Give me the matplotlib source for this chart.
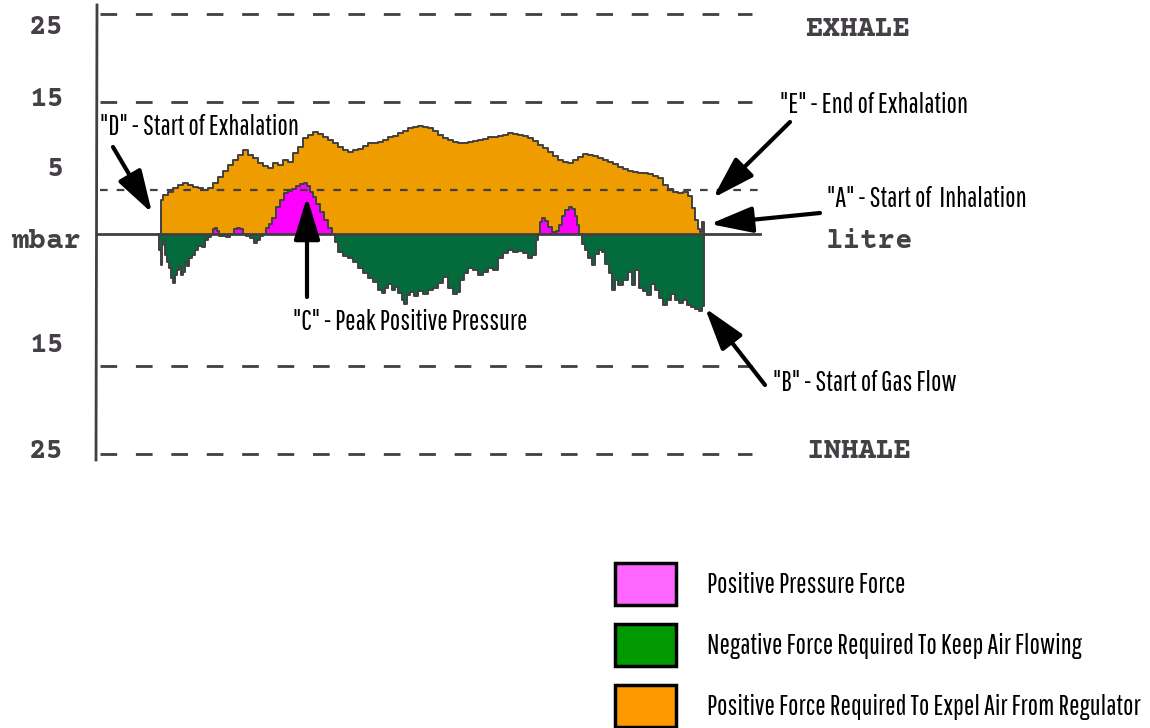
import matplotlib.pyplot as plt
from matplotlib.patches import Patch
import numpy as np

# exhale force trace (orange area), mbar
t_exhale = [160, 161, 165, 170, 175, 180, 185, 190, 195, 200, 205, 210, 215, 220, 225,
            230, 235, 240, 245, 250, 255, 260, 265, 270, 275, 280, 285, 290, 295, 300,
            305, 310, 315, 320, 325, 330, 335, 340, 345, 350, 355, 360, 365, 370, 375,
            380, 385, 390, 395, 400, 405, 410, 415, 420, 425, 430, 435, 440, 445, 450,
            455, 460, 465, 470, 475, 480, 485, 490, 495, 500, 505, 510, 515, 520, 525,
            530, 535, 540, 545, 550, 555, 560, 565, 570, 575, 580, 585, 590, 595, 600,
            605, 610, 615, 620, 625, 630, 635, 640, 645, 650, 655, 660, 665, 670, 675,
            680, 685, 690, 693, 696, 699, 701, 703, 705]
exhale_force = [0.0, 3.9, 4.4, 4.8, 5.2, 5.6, 5.8, 5.6, 5.3, 5.2, 5.0, 5.2, 5.8, 6.5, 7.2,
                7.8, 8.4, 9.0, 9.5, 9.0, 8.6, 8.1, 7.7, 7.5, 8.1, 7.8, 8.4, 8.2, 9.2, 9.9,
                10.9, 11.3, 11.6, 11.4, 11.0, 10.7, 10.3, 9.9, 9.5, 9.3, 9.5, 9.7, 10.0, 10.3, 10.3,
                10.5, 10.7, 11.0, 11.1, 11.5, 11.7, 12.0, 12.2, 12.3, 12.2, 12.0, 11.7, 11.3, 10.9, 10.7,
                10.5, 10.3, 10.3, 10.5, 10.6, 10.7, 10.8, 11.0, 11.0, 11.1, 11.3, 11.5, 11.4, 11.3, 11.1,
                10.9, 10.6, 10.1, 9.8, 9.3, 8.9, 8.4, 8.2, 8.1, 8.4, 8.8, 9.1, 9.0, 8.9, 8.6,
                8.4, 8.2, 8.0, 7.6, 7.4, 7.2, 7.0, 6.9, 6.9, 6.8, 6.6, 6.4, 5.6, 5.1, 4.8,
                4.7, 4.8, 4.3, 3.0, 1.6, 0.6, 0.2, 1.4, 0.0]

# regulator pressure trace, mbar (+ magenta, - green)
t_pressure = [158, 160, 161, 162, 164, 166, 168, 170, 172, 174, 176, 178, 180, 182, 184,
              186, 188, 190, 193, 196, 200, 203, 206, 209, 212, 214, 216, 218, 220, 224,
              228, 232, 235, 238, 241, 244, 248, 252, 255, 258, 261, 264, 267, 270, 274,
              278, 282, 286, 290, 294, 298, 302, 305, 308, 311, 314, 318, 322, 326, 330,
              333, 336, 340, 345, 350, 355, 360, 365, 370, 375, 380, 383, 386, 390, 393,
              396, 400, 403, 405, 408, 412, 416, 420, 425, 430, 435, 440, 445, 450, 455,
              458, 462, 466, 470, 475, 480, 485, 490, 495, 500, 505, 510, 515, 520, 525,
              530, 534, 537, 539, 541, 543, 546, 550, 554, 557, 560, 563, 567, 570, 573,
              576, 578, 580, 583, 586, 590, 593, 597, 600, 603, 607, 610, 613, 616, 620,
              625, 630, 633, 637, 641, 645, 649, 653, 657, 661, 665, 669, 673, 677, 681,
              685, 689, 693, 697, 700, 703, 705]
pressure = [0.0, -1.8, -3.5, -1.3, -0.7, -2.4, -3.2, -3.9, -5.0, -5.6, -4.7, -4.1, -3.6, -4.7, -4.3,
            -3.2, -3.6, -2.7, -2.4, -1.8, -1.4, -1.5, -0.7, -0.3, 0.0, 0.6, 0.7, 0.3, -0.2, -0.2,
            -0.3, 0.0, 0.6, 0.7, 0.6, 0.0, -0.2, -0.5, -1.0, -0.7, -0.2, 0.0, 0.7, 1.1, 1.8,
            3.1, 3.9, 4.7, 4.9, 5.1, 5.5, 5.7, 5.8, 5.5, 4.8, 4.2, 3.4, 2.5, 1.6, 0.7,
            0.0, -0.9, -2.0, -2.5, -2.7, -3.2, -3.9, -4.4, -5.0, -5.5, -6.4, -6.7, -6.1, -5.7, -6.4,
            -6.0, -6.7, -7.5, -8.0, -6.9, -6.6, -7.0, -6.5, -6.8, -6.4, -6.1, -5.6, -4.9, -6.1, -6.8,
            -6.6, -5.2, -4.4, -3.9, -4.1, -4.7, -4.3, -3.9, -4.1, -2.7, -2.2, -1.8, -2.0, -1.9, -2.2,
            -2.7, -2.4, -0.7, 0.0, 1.4, 1.8, 1.5, 0.8, 0.2, 0.3, 1.0, 2.0, 2.7, 3.1, 2.8,
            2.0, 1.0, 0.0, -1.1, -1.8, -2.7, -3.5, -2.3, -1.8, -2.0, -3.4, -4.4, -6.4, -5.2, -5.8,
            -5.2, -4.3, -5.8, -4.1, -6.1, -6.5, -6.9, -5.7, -6.4, -7.3, -8.1, -7.5, -6.8, -7.5, -7.8,
            -7.5, -8.1, -8.3, -8.5, -8.8, -8.2, 0.0]

grid_levels = [25, 15, -15, -25]
mid_level = 5
legend_labels = ['Positive Pressure Force',
                 'Negative Force Required To Keep Air Flowing',
                 'Positive Force Required To Expel Air From Regulator']
legend_colors = ['#ff66ff', '#009900', '#ff9900']

ORANGE = '#ef9c00'
GREEN = '#046b3c'
MAGENTA = '#ff00ff'
INK = '#404040'
ann_font = ['Saira Extra Condensed', 'Pathway Gothic One', 'Antonio', 'DejaVu Sans']
scale_font = ['Courier Prime', 'Liberation Mono', 'DejaVu Sans Mono']

plt.rcParams['lines.scale_dashes'] = False

PX = 8.8  # pixels per mbar
BASE = 234


def yp(pix):
    # figure pixel row -> mbar
    return (BASE - pix) / PX


fig = plt.figure(figsize=(11.5, 7.28), dpi=100)
ax = fig.add_axes([0, 0, 1, 1])
ax.set_xlim(0, 1150)
ax.set_ylim(yp(728), yp(0))
ax.axis('off')

t_e = np.array(t_exhale)
e = np.array(exhale_force)
t_p = np.array(t_pressure)
p = np.array(pressure)

ax.fill_between(t_e, 0, e, color=ORANGE, step='mid', lw=0, zorder=2)
ax.plot(t_e, e, color=INK, lw=1.4, drawstyle='steps-mid', zorder=4)
ax.fill_between(t_p, 0, p, where=p >= 0, color=MAGENTA, step='mid', lw=0, zorder=3)
ax.fill_between(t_p, p, 0, where=p <= 0, color=GREEN, step='mid', lw=0, zorder=3)
ax.plot(t_p, p, color=INK, lw=1.4, drawstyle='steps-mid', zorder=4)

# axis, baseline and reference lines
ax.plot([97, 96], [yp(5), yp(460)], color=INK, lw=2, zorder=5)
ax.plot([98, 760], [0, 0], color=INK, lw=2, zorder=5)
for lv in grid_levels:
    ax.plot([100, 752], [lv, lv], color=INK, lw=2, dashes=(12, 13.5), zorder=5)
ax.plot([100, 760], [mid_level, mid_level], color=INK, lw=1.6, dashes=(5.5, 6.5), zorder=5)

# scale labels
sk = dict(family=scale_font, fontweight='bold', fontsize=21, color='#444046', va='center')
ax.text(64, yp(27), '25', ha='right', **sk)
ax.text(64, yp(99), '15', ha='right', **sk)
ax.text(64, yp(169), '5', ha='right', **sk)
ax.text(81, yp(241), 'mbar', ha='right', **sk)
ax.text(64, yp(346), '15', ha='right', **sk)
ax.text(64, yp(451), '25', ha='right', **sk)
ax.text(805, yp(29), 'EXHALE', ha='left', **sk)
ax.text(826, yp(242), 'litre', ha='left', **sk)
ax.text(807, yp(451), 'INHALE', ha='left', **sk)

# annotations
tk = dict(family=ann_font, fontsize=20, color='black', va='center', ha='left')
ax.text(100, yp(127), '"D" - Start of Exhalation', **tk)
ax.text(780, yp(105), '"E" - End of Exhalation', **tk)
ax.text(827, yp(199), '"A" - Start of  Inhalation', **tk)
ax.text(293, yp(322), '"C" - Peak Positive Pressure', **tk)
ax.text(773, yp(383), '"B" - Start of Gas Flow', **tk)

arrows = [((113, 147), (152, 213)),
          ((307, 297), (307, 197)),
          ((790, 122), (713, 198)),
          ((820, 213), (710, 224)),
          ((765, 385), (705, 308))]
for (x0, y0), (x1, y1) in arrows:
    ax.annotate('', xy=(x1, yp(y1)), xytext=(x0, yp(y0)),
                arrowprops=dict(arrowstyle='-|>,head_length=1.3,head_width=0.4',
                                color='black', lw=3, mutation_scale=20,
                                shrinkA=0, shrinkB=0), zorder=6)

handles = [Patch(facecolor=c, edgecolor='black', lw=2.5) for c in legend_colors]
ax.legend(handles, legend_labels, loc='upper left', bbox_to_anchor=(615 / 1150, 1 - 563 / 728),
          frameon=False, prop=dict(family=ann_font, size=20), handlelength=2.2,
          handleheight=1.95, labelspacing=0.68, handletextpad=1.1, borderpad=0,
          borderaxespad=0)

fig.savefig('out.png', dpi=100)
